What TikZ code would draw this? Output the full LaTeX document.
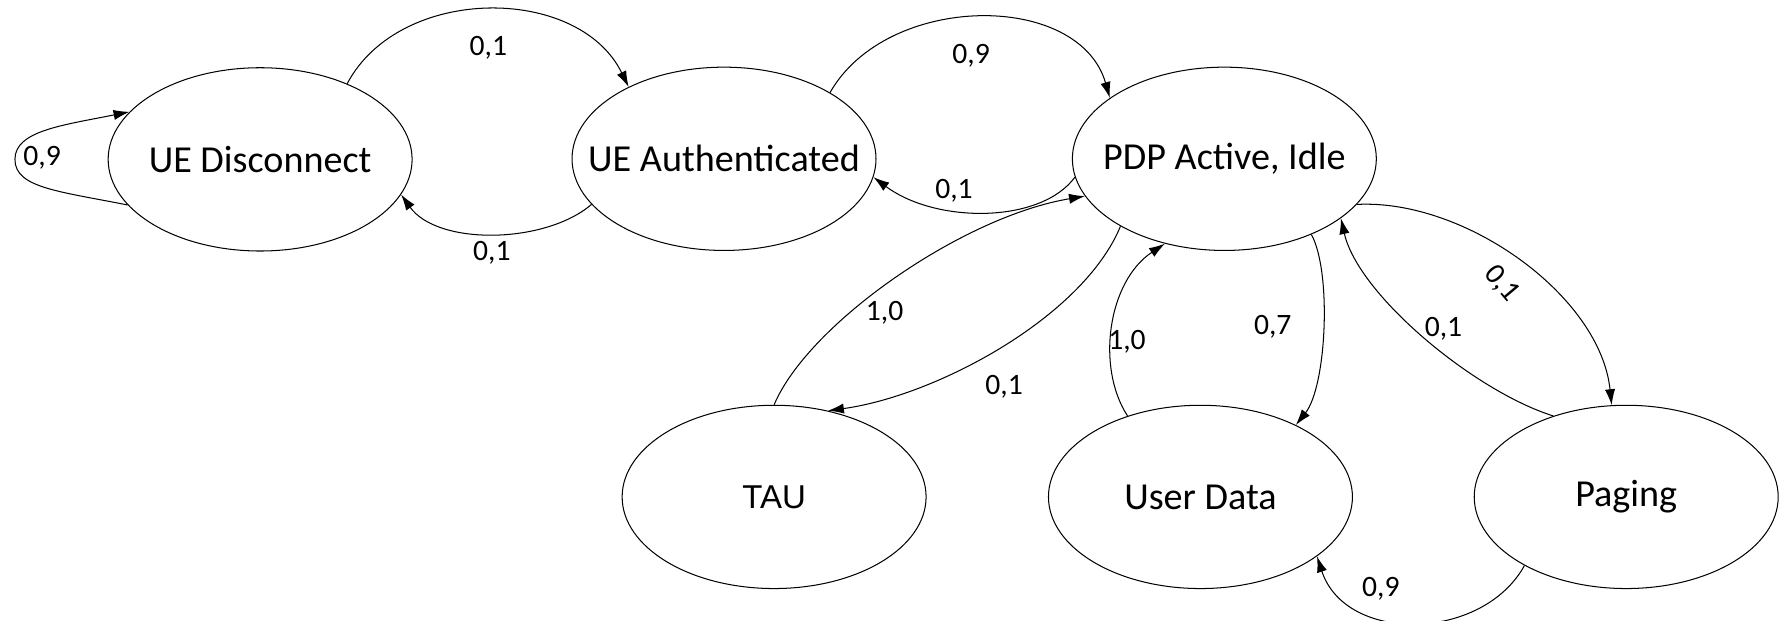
\documentclass[tikz,border=0pt]{standalone}
\usepackage{fontspec}
\setmainfont{Carlito}
\newfontfamily\taufont{Liberation Sans}
\usetikzlibrary{shapes.geometric,arrows.meta}
\begin{document}
\begin{tikzpicture}[x=1pt,y=-1pt,
  state/.style={draw, ellipse, inner sep=0pt, line width=0.9pt, minimum width=267pt, minimum height=161pt, font=\fontsize{33.5}{40}\selectfont},
  edge/.style={draw, line width=0.9pt, -{Latex[length=14pt,width=9pt]}},
  lbl/.style={inner sep=0pt, font=\fontsize{26}{30}\selectfont}]
\useasboundingbox (0,0) rectangle (1568,545);
\node[state] (dis) at (228.5,140) {\makebox[0pt]{UE Disconnect}};
\node[state] (auth) at (636,139.5) {\makebox[0pt]{UE Authenticated}};
\node[state] (pdp) at (1075.5,139.5) {\makebox[0pt]{PDP Active, Idle}};
\node[state] (tau) at (680,436.5) {\makebox[0pt]{\taufont\fontsize{29}{36}\selectfont TAU}};
\node[state] (ud) at (1054.5,436.5) {\makebox[0pt]{User Data}};
\node[state] (pag) at (1428.5,436.5) {\makebox[0pt]{Paging}};

% edges
\path[edge] (dis.199) .. controls +(-60,-12) and +(0,25) .. ++(-99,-40)
                      .. controls +(0,-25) and +(-60,12) .. (dis.160);
\path[edge] (dis.41) .. controls +(46,-87) and +(-44,-90) .. (auth.143);
\path[edge] (auth.199) .. controls +(-41,35) and +(32,45) .. (dis.346);
\path[edge] (auth.32) .. controls +(50,-88) and +(-27,-94) .. (pdp.152);
\path[edge] (pdp.187) .. controls +(-30,41) and +(55,41) .. (auth.353);
\path[edge] (tau.north) .. controls +(30,-71) and +(-108,18) .. (pdp.195.5);
\path[edge] (pdp.213) .. controls +(-33,80) and +(95,-13) .. (tau.58.5);
\path[edge] (ud.132) .. controls +(-28,-43) and +(-50,33) .. (pdp.235);
\path[edge] (pdp.319) .. controls +(18,33) and +(27,-34) .. (ud.37);
\path[edge] (pdp.341) .. controls +(95,-5) and +(-10,-96) .. (pag.99.5);
\path[edge] (pag.132.5) .. controls +(-70,-22) and +(15,67) .. (pdp.333);
\path[edge] (pag.214) .. controls +(-37,67) and +(25,77) .. (ud.333);

% labels
\node[lbl] (l1) at (37,139) {0,9};
\node[lbl] (l2) at (429,42) {0,1};
\node[lbl] (l3) at (432,222) {0,1};
\node[lbl] (l4) at (853,49) {0,9};
\node[lbl] (l5) at (838,168) {0,1};
\node[lbl] (l6) at (777,275) {1,0};
\node[lbl] (l7) at (882,340) {0,1};
\node[lbl] (l8) at (990,300) {1,0};
\node[lbl] (l9) at (1118,287) {0,7};
\node[lbl, rotate=-50] (l10) at (1319,249) {0,1};
\node[lbl] (l11) at (1268,289) {0,1};
\node[lbl] (l12) at (1213,517) {0,9};
\end{tikzpicture}
\end{document}
